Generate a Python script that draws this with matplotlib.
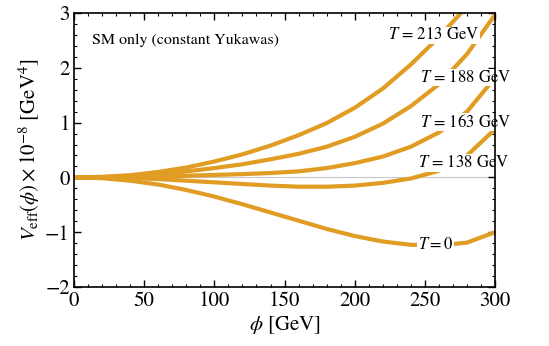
import numpy as np
import matplotlib
matplotlib.use('Agg')
import matplotlib.pyplot as plt
from matplotlib.ticker import MultipleLocator

plt.rcParams['font.family'] = 'STIXGeneral'
plt.rcParams['mathtext.fontset'] = 'stix'

# phi grid (GeV) and V_eff values (units of 1e8 GeV^4)
phi = [0, 20, 40, 60, 80, 100, 120, 140, 160, 180, 200, 220, 240, 260, 280, 300]
v_T0 = [0, -0.015, -0.06, -0.13, -0.23, -0.35, -0.49, -0.64, -0.79, -0.94, -1.07, -1.17, -1.23, -1.24, -1.19, -1.0]
v_T138 = [0, 0, -0.01, -0.03, -0.06, -0.09, -0.12, -0.15, -0.17, -0.17, -0.15, -0.1, -0.02, 0.12, 0.4, 0.88]
v_T163 = [0, 0, 0.005, 0.015, 0.03, 0.045, 0.06, 0.08, 0.11, 0.17, 0.26, 0.38, 0.56, 0.82, 1.2, 1.82]
v_T188 = [0, 0.005, 0.025, 0.06, 0.11, 0.17, 0.24, 0.33, 0.43, 0.56, 0.74, 0.98, 1.3, 1.7, 2.25, 2.97]
v_T213 = [0, 0.01, 0.04, 0.1, 0.18, 0.29, 0.42, 0.58, 0.77, 0.99, 1.27, 1.62, 2.06, 2.56, 3.12, 3.75]

curves = [v_T0, v_T138, v_T163, v_T188, v_T213]
labels = ['$T = $0', '$T$ = 138 GeV', '$T$ = 163 GeV', '$T$ = 188 GeV', '$T$ = 213 GeV']
# where the labels sit (phi, V)
label_pos = [(245, -1.24), (245, 0.26), (246.5, 1.01), (246.5, 1.82), (224, 2.59)]

col = '#E19C24'

fig = plt.figure(figsize=(5.49, 3.46), dpi=100)
ax = fig.add_axes([0.1348, 0.1705, 0.767, 0.792])

ax.axhline(0, color='#c8c8c8', lw=0.8, zorder=1)
for v in curves:
    ax.plot(phi, v, color=col, lw=3.0, solid_capstyle='butt', zorder=2)

for (x, y), s in zip(label_pos, labels):
    ax.text(x, y, s, fontsize=12, ha='left', va='center', zorder=4, clip_on=False,
            bbox=dict(facecolor='white', edgecolor='none', pad=0.5))

ax.text(13, 2.5, 'SM only (constant Yukawas)', fontsize=11.5, ha='left', va='center')

ax.set_xlim(0, 300)
ax.set_ylim(-2, 3)
ax.xaxis.set_major_locator(MultipleLocator(50))
ax.xaxis.set_minor_locator(MultipleLocator(10))
ax.yaxis.set_minor_locator(MultipleLocator(0.2))
ax.tick_params(which='both', direction='in', top=True, right=True, labelsize=15, pad=3)
ax.tick_params(which='major', length=5, width=1)
ax.tick_params(which='minor', length=2.5, width=0.8)
ax.set_yticks([-2, -1, 0, 1, 2, 3])
ax.set_yticklabels(['\u22122', '\u22121', '0', '1', '2', '3'])
for sp in ax.spines.values():
    sp.set_linewidth(1.2)
    sp.set_zorder(5)

ax.set_xlabel('$\\phi$ [GeV]', fontsize=15, labelpad=2)
ax.set_ylabel('$V_{\\rm eff}(\\phi)\\times 10^{-8}$ [GeV$^4$]', fontsize=15, labelpad=2)

fig.savefig('out.png', dpi=100)
